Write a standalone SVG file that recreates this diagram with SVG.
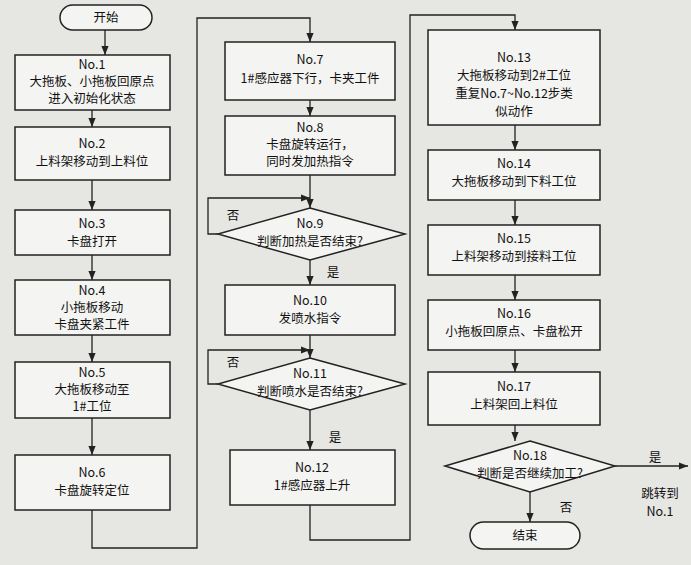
<svg xmlns="http://www.w3.org/2000/svg" width="691" height="565" viewBox="0 0 691 565">
<defs>
<marker id="a" viewBox="0 0 10 10" refX="10" refY="5" markerWidth="7" markerHeight="7" orient="auto"><path d="M0,1 L10,5 L0,9 z" fill="#222"/></marker>
<style>
.b{fill:#f4f4f2;stroke:#222;stroke-width:1.5}
.t{font-family:"Noto Sans CJK SC","Liberation Sans",sans-serif;font-size:12.5px;fill:#111;text-anchor:middle}
.ca{fill:none;stroke:#222;stroke-width:1.3;marker-end:url(#a)}
</style>
</defs>
<rect width="691" height="565" fill="#e6e6e3"/>
<g id="connectors">
<path class="ca" d="M105,30 V55"/>
<path class="ca" d="M92,110 V127"/>
<path class="ca" d="M92,180 V210"/>
<path class="ca" d="M92,255 V280"/>
<path class="ca" d="M92,335 V362"/>
<path class="ca" d="M92,418 V455"/>
<path class="ca" d="M92,510 V548 H197 V18 H310 V42"/>
<path class="ca" d="M310,100 V116"/>
<path class="ca" d="M310,175 V208"/>
<path class="ca" d="M218,234 H208 V198 H310"/>
<path class="ca" d="M310,260 V285"/>
<path class="ca" d="M310,335 V358"/>
<path class="ca" d="M218,384 H208 V350 H310"/>
<path class="ca" d="M310,410 V450"/>
<path class="ca" d="M310,505 V540 H410 V15 H515 V30"/>
<path class="ca" d="M515,125 V150"/>
<path class="ca" d="M515,200 V225"/>
<path class="ca" d="M515,275 V300"/>
<path class="ca" d="M515,350 V372"/>
<path class="ca" d="M515,425 V441"/>
<path class="ca" d="M615,466 H688"/>
<path class="ca" d="M530,492 V522"/>
</g>
<g id="start"><rect class="b" x="60" y="5" width="92" height="25" rx="12.5"/><text class="t" x="106" y="22">开始</text></g>
<g id="n1"><rect class="b" x="15" y="55" width="155" height="55"/><text class="t" x="92" y="69">No.1</text><text class="t" x="92" y="86">大拖板、小拖板回原点</text><text class="t" x="92" y="103">进入初始化状态</text></g>
<g id="n2"><rect class="b" x="15" y="127" width="155" height="53"/><text class="t" x="92" y="148">No.2</text><text class="t" x="92" y="166">上料架移动到上料位</text></g>
<g id="n3"><rect class="b" x="15" y="210" width="155" height="45"/><text class="t" x="92" y="228">No.3</text><text class="t" x="92" y="246">卡盘打开</text></g>
<g id="n4"><rect class="b" x="15" y="280" width="155" height="55"/><text class="t" x="92" y="295">No.4</text><text class="t" x="92" y="312">小拖板移动</text><text class="t" x="92" y="329">卡盘夹紧工件</text></g>
<g id="n5"><rect class="b" x="15" y="362" width="155" height="56"/><text class="t" x="92" y="377">No.5</text><text class="t" x="92" y="394">大拖板移动至</text><text class="t" x="92" y="411">1#工位</text></g>
<g id="n6"><rect class="b" x="15" y="455" width="155" height="55"/><text class="t" x="92" y="477">No.6</text><text class="t" x="92" y="495">卡盘旋转定位</text></g>
<g id="n7"><rect class="b" x="225" y="42" width="170" height="58"/><text class="t" x="310" y="64">No.7</text><text class="t" x="310" y="83">1#感应器下行，卡夹工件</text></g>
<g id="n8"><rect class="b" x="225" y="116" width="170" height="59"/><text class="t" x="310" y="132">No.8</text><text class="t" x="310" y="149">卡盘旋转运行，</text><text class="t" x="310" y="166">同时发加热指令</text></g>
<g id="n9"><polygon class="b" points="310,208 405,234 310,260 218,234"/><text class="t" x="310" y="228">No.9</text><text class="t" x="310" y="246">判断加热是否结束?</text><text class="t" x="233" y="220">否</text><text class="t" x="333" y="277">是</text></g>
<g id="n10"><rect class="b" x="225" y="285" width="170" height="50"/><text class="t" x="310" y="305">No.10</text><text class="t" x="310" y="323">发喷水指令</text></g>
<g id="n11"><polygon class="b" points="310,358 405,384 310,410 218,384"/><text class="t" x="310" y="378">No.11</text><text class="t" x="310" y="396">判断喷水是否结束?</text><text class="t" x="233" y="367">否</text><text class="t" x="335" y="442">是</text></g>
<g id="n12"><rect class="b" x="230" y="450" width="165" height="55"/><text class="t" x="312" y="472">No.12</text><text class="t" x="312" y="490">1#感应器上升</text></g>
<g id="n13"><rect class="b" x="428" y="30" width="172" height="95"/><text class="t" x="514" y="62">No.13</text><text class="t" x="514" y="80">大拖板移动到2#工位</text><text class="t" x="514" y="98">重复No.7~No.12步类</text><text class="t" x="514" y="116">似动作</text></g>
<g id="n14"><rect class="b" x="428" y="150" width="172" height="50"/><text class="t" x="514" y="168">No.14</text><text class="t" x="514" y="186">大拖板移动到下料工位</text></g>
<g id="n15"><rect class="b" x="428" y="225" width="172" height="50"/><text class="t" x="514" y="243">No.15</text><text class="t" x="514" y="261">上料架移动到接料工位</text></g>
<g id="n16"><rect class="b" x="428" y="300" width="172" height="50"/><text class="t" x="514" y="318">No.16</text><text class="t" x="514" y="336">小拖板回原点、卡盘松开</text></g>
<g id="n17"><rect class="b" x="428" y="372" width="172" height="53"/><text class="t" x="514" y="391">No.17</text><text class="t" x="514" y="409">上料架回上料位</text></g>
<g id="n18"><polygon class="b" points="530,441 615,466 530,492 445,466"/><text class="t" x="530" y="460">No.18</text><text class="t" x="530" y="478">判断是否继续加工?</text><text class="t" x="655" y="462">是</text><text class="t" x="566" y="512">否</text><text class="t" x="660" y="498">跳转到</text><text class="t" x="660" y="516">No.1</text></g>
<g id="end"><rect class="b" x="470" y="522" width="110" height="27" rx="13.5"/><text class="t" x="525" y="540">结束</text></g>
</svg>
